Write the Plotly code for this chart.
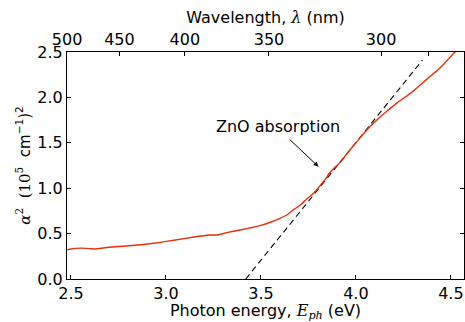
import plotly.graph_objects as go

# Measured absorption spectrum (alpha^2, units of (1e5 cm^-1)^2) vs photon energy (eV)
energy = [2.48, 2.50, 2.55, 2.60, 2.62, 2.70, 2.79, 2.88, 2.97, 3.05, 3.14, 3.23, 3.27,
          3.32, 3.39, 3.46, 3.50, 3.55, 3.60, 3.64, 3.67, 3.71, 3.74, 3.78, 3.81, 3.84,
          3.86, 3.89, 3.92, 3.96, 4.00, 4.04, 4.08, 4.13, 4.17, 4.22, 4.25, 4.29, 4.34,
          4.39, 4.43, 4.46, 4.49, 4.522, 4.55]
alpha2 = [0.32, 0.33, 0.34, 0.335, 0.33, 0.35, 0.363, 0.38, 0.404, 0.43, 0.46, 0.485, 0.485,
          0.51, 0.54, 0.57, 0.59, 0.625, 0.668, 0.71, 0.76, 0.82, 0.878, 0.95, 1.024, 1.10,
          1.164, 1.23, 1.29, 1.40, 1.50, 1.60, 1.69, 1.79, 1.86, 1.945, 1.99, 2.05, 2.14,
          2.23, 2.30, 2.36, 2.43, 2.50, 2.55]

# Linear (Tauc) fit line
fit_energy = [3.42, 4.35]
fit_alpha2 = [0.0, 2.41]

# Top-axis wavelength ticks (nm)
wl_ticks = [500, 450, 400, 350, 300, 283]
wl_labels = ["500", "450", "400", "350", "300", ""]
HC = 1239.84

x_range = [HC / 500 - 0.0005, 4.569]
y_range = [0, 2.5]
FONT = "DejaVu Sans, sans-serif"

fig = go.Figure()
fig.add_trace(go.Scatter(x=fit_energy, y=fit_alpha2, mode="lines",
                         line=dict(color="black", width=1.1, dash="6px,4px"),
                         showlegend=False))
fig.add_trace(go.Scatter(x=energy, y=alpha2, mode="lines",
                         line=dict(color="#e8300e", width=1.4, shape="spline", smoothing=0.5),
                         showlegend=False))
# dummy traces for top and right axes
fig.add_trace(go.Scatter(x=x_range, y=[None, None], xaxis="x2", mode="lines",
                         showlegend=False, hoverinfo="skip"))
fig.add_trace(go.Scatter(x=[None], y=[None], yaxis="y2", showlegend=False, hoverinfo="skip"))

axis_common = dict(showline=True, linecolor="black", linewidth=1, mirror=False,
                   ticks="inside", ticklen=4, tickwidth=1, tickcolor="black",
                   showgrid=False, zeroline=False,
                   tickfont=dict(family=FONT, size=16, color="black"))

fig.update_layout(
    width=465, height=322,
    margin=dict(l=67, r=1, t=52, b=43),
    paper_bgcolor="white", plot_bgcolor="white",
    xaxis=dict(range=x_range, tickvals=[2.5, 3.0, 3.5, 4.0, 4.5],
               ticktext=["2.5", "3.0", "3.5", "4.0", "4.5"],
               title=dict(text="Photon energy, <span style=\"font-family:'DejaVu Serif'\"><i>E</i><sub><i>ph</i></sub></span> (eV)",
                          font=dict(family=FONT, size=16, color="black"), standoff=2),
               **axis_common),
    xaxis2=dict(range=x_range, overlaying="x", side="top", anchor="y",
                tickvals=[HC / w for w in wl_ticks], ticktext=wl_labels,
                title=dict(text="Wavelength, <span style=\"font-family:'DejaVu Serif'\"><i>λ</i></span> (nm)",
                           font=dict(family=FONT, size=16, color="black"), standoff=1),
                **axis_common),
    yaxis=dict(range=y_range, tickvals=[0, 0.5, 1.0, 1.5, 2.0, 2.5],
               ticktext=["0.0", "0.5", "1.0", "1.5", "2.0", "2.5"],
               title=dict(text="<span style=\"font-family:'DejaVu Serif'\"><i>α</i><sup>2</sup>  (10<sup>5</sup></span>  cm<sup>−1</sup>)<sup>2</sup>",
                          font=dict(family=FONT, size=15, color="black"), standoff=3),
               **axis_common),
    yaxis2=dict(range=y_range, overlaying="y", side="right", anchor="x",
                tickvals=[0, 0.5, 1.0, 1.5, 2.0, 2.5], showticklabels=False,
                **axis_common),
)

fig.add_annotation(x=3.588, y=1.685, xref="x", yref="y", text="ZnO absorption",
                   showarrow=False, font=dict(family=FONT, size=16, color="black"))
fig.add_annotation(x=3.803, y=1.237, ax=3.643, ay=1.553, xref="x", yref="y",
                   axref="x", ayref="y", text="", showarrow=True,
                   arrowhead=2, arrowsize=1, arrowwidth=1, arrowcolor="black")

fig.write_html("out.html")
